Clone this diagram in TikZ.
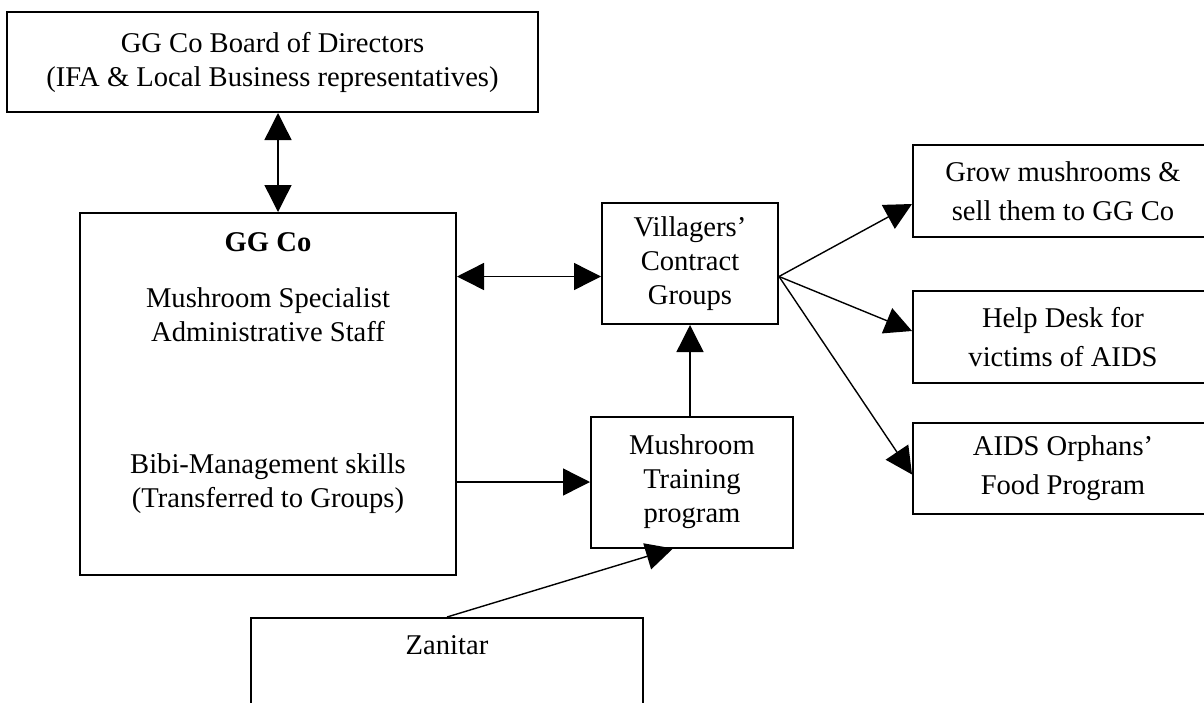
\documentclass[tikz,border=0pt]{standalone}
\usepackage{fontspec}
\setmainfont{Liberation Serif}
\usetikzlibrary{positioning, arrows.meta, calc}

\tikzset{
  box/.style={draw, line width=1pt, align=center, inner sep=0pt},
  outbox/.style={box, minimum width=150pt, minimum height=46pt, font=\fontsize{14.3}{19.5}\selectfont},
  txt/.style={align=center, inner sep=0pt},
  arr/.style={line width=0.7pt, -{Triangle[length=13.5pt,width=13.5pt]}},
  dblarr/.style={line width=0.7pt, {Triangle[length=13.5pt,width=13.5pt]}-{Triangle[length=13.5pt,width=13.5pt]}},
}

\begin{document}
\begin{tikzpicture}[x=0.5pt,y=-0.5pt, font=\fontsize{14.3}{17}\selectfont]
\useasboundingbox (0,0) rectangle (1204,702);

% left column
\node[box, minimum width=265.5pt, minimum height=50pt] (board) at (272.5,62)
  {GG Co Board of Directors\\(IFA \& Local Business representatives)};
\node[box, minimum width=188pt, minimum height=181pt] (ggco) at (268,394) {};
\node[txt] (ggname) at (268,242) {\textbf{GG Co}};
\node[txt] (staff) at (268,315) {Mushroom Specialist\\Administrative Staff};
\node[txt] (skills) at (268,484) {Bibi-Management skills\\(Transferred to Groups)};

% middle
\node[box, minimum width=88pt, minimum height=60.5pt] (vill) at (690,263.5)
  {Villagers'\\Contract\\Groups};
\node[box, minimum width=101pt, minimum height=65.5pt] (train) at (692,482)
  {Mushroom\\Training\\program};
\node[box, minimum width=196pt, minimum height=51pt] (zan) at (447,669) {};
\node[txt] (zantxt) at (447,645) {Zanitar};

% right column
\node[outbox] (grow) at (1063,191) {Grow mushrooms \&\\sell them to GG Co};
\node[outbox] (help) at (1063,337) {Help Desk for\\victims of AIDS};
\node[outbox, minimum height=45.5pt] (orph) at (1063,468.5) {AIDS Orphans'\\Food Program};

% connectors
\coordinate (fan) at ($(vill.east)+(0,13)$);
\coordinate (top) at ($(ggco.north)+(10,0)$);
\draw[dblarr] (board.south -| top) -- (top);
\draw[dblarr] (ggco.east |- fan) -- (vill.west |- fan);
\draw[arr] (train.north -| vill.south) -- (vill.south);
\draw[arr] (train.west -| ggco.east) -- (train.west);
\draw[arr] (zan.north) -- ($(train.south)+(-19,0)$);
\draw[arr] (fan) -- ($(grow.west)+(0,13)$);
\draw[arr] (fan) -- ($(help.west)+(0,-6)$);
\draw[arr] (fan) -- ($(orph.west)+(0,6)$);
\end{tikzpicture}
\end{document}
